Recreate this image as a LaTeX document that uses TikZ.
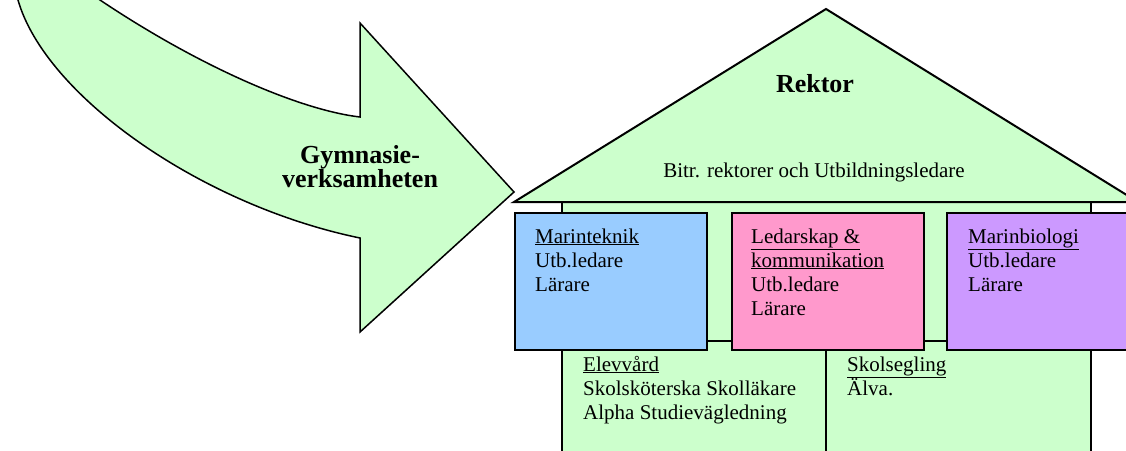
\documentclass[tikz,border=0pt]{standalone}
\usepackage{fontspec}
\setmainfont{Liberation Serif}
\definecolor{lgreen}{HTML}{CCFFCC}
\definecolor{lblue}{HTML}{99CCFF}
\definecolor{lpink}{HTML}{FF99CC}
\definecolor{lpurple}{HTML}{CC99FF}
\begin{document}
\begin{tikzpicture}[x=1pt,y=-1pt,
  shapeline/.style={draw=black,line width=1.5pt,line join=miter},
  dept/.style={shapeline,minimum width=192pt,minimum height=137pt,anchor=north west,inner sep=0pt},
  txt/.style={font=\fontsize{21}{24}\selectfont,align=left,inner sep=0pt,anchor=base west},
  bigtxt/.style={font=\fontsize{26}{24}\selectfont\bfseries,align=center,inner sep=0pt,anchor=base}]
\useasboundingbox (0,0) rectangle (1126,450);
\clip (0,0) rectangle (1126,450);
% curved arrow
\draw[shapeline,fill=lgreen] (360,23) -- (514,192) -- (360,332) -- (360,238)
  .. controls (200,205) and (45,95) .. (18,0) -- (12,-20) -- (70,-20) -- (100,0)
  .. controls (200,67) and (300,110) .. (360,117) -- cycle;
\node[bigtxt] (gym) at (360,163) {Gymnasie-};
\node[bigtxt] (verk) at (360,187) {verksamheten};
% house body
\draw[shapeline,fill=lgreen] (562,202) rectangle (1091,341);
\draw[shapeline,fill=lgreen] (562,341) rectangle (826,470);
\draw[shapeline,fill=lgreen] (826,341) rectangle (1091,470);
% roof
\draw[draw=black,line width=2pt,line join=miter,fill=lgreen] (514,202) -- (826,9) -- (1138,202) -- cycle;
\node[bigtxt] (rektor) at (815,92) {Rektor};
\node[txt,anchor=base] (bitr) at (814,177) {Bitr. rektorer och Utbildningsledare};
% departments
\node[dept,fill=lblue] (mt) at (514,212) {};
\node[dept,fill=lpink] (lk) at (731,212) {};
\node[dept,fill=lpurple] (mb) at (946,212) {};
\node[txt] (mtt) at (535,291) {\underline{Marinteknik}\\Utb.ledare\\Lärare};
\node[txt] (lkt) at (751,315) {\underline{Ledarskap \&}\\\underline{kommunikation}\\Utb.ledare\\Lärare};
\node[txt] (mbt) at (968,291) {\underline{Marinbiologi}\\Utb.ledare\\Lärare};
\node[txt] (ev) at (583,419) {\underline{Elevvård}\\Skolsköterska Skolläkare\\Alpha Studievägledning};
\node[txt] (ss) at (847,395) {\underline{Skolsegling}\\Älva.};
\end{tikzpicture}
\end{document}
